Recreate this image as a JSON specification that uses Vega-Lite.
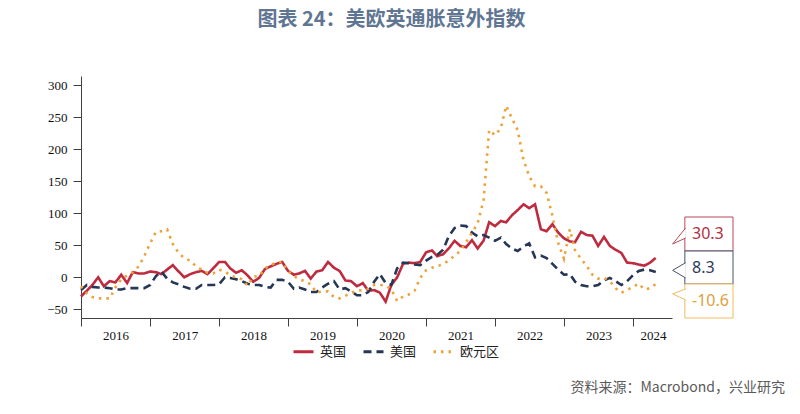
{
  "$schema": "https://vega.github.io/schema/vega-lite/v6.json",
  "autosize": "none",
  "width": 591,
  "height": 242,
  "padding": {"left": 81, "top": 76, "right": 128, "bottom": 96},
  "background": "white",
  "title": {
    "text": "图表 24：美欧英通胀意外指数",
    "font": "Noto Sans CJK SC",
    "fontSize": 20,
    "fontWeight": "bold",
    "color": "#5f7693",
    "anchor": "middle",
    "dx": 15,
    "offset": 46
  },
  "config": {
    "view": {"stroke": null},
    "axis": {"grid": false, "domainColor": "#404040", "tickColor": "#404040", "labelColor": "#111111", "labelFont": "Liberation Serif", "labelFontSize": 13, "tickSize": 8, "title": null, "labelOverlap": false}
  },
  "datasets": {
    "series": [
      {"d": "2016-01-01", "英国": -30, "美国": -20, "欧元区": -14},
      {"d": "2016-02-01", "英国": -21, "美国": -12, "欧元区": -25},
      {"d": "2016-03-01", "英国": -12, "美国": -15, "欧元区": -31},
      {"d": "2016-04-01", "英国": 0, "美国": -16, "欧元区": -33},
      {"d": "2016-05-01", "英国": -14, "美国": -16, "欧元区": -33},
      {"d": "2016-06-01", "英国": -6, "美国": -17, "欧元区": -33},
      {"d": "2016-07-01", "英国": -8, "美国": -19, "欧元区": -16},
      {"d": "2016-08-01", "英国": 4, "美国": -19, "欧元区": -3},
      {"d": "2016-09-01", "英国": -9, "美国": -17, "欧元区": 3},
      {"d": "2016-10-01", "英国": 8, "美国": -17, "欧元区": 8},
      {"d": "2016-11-01", "英国": 6, "美国": -17, "欧元区": 17},
      {"d": "2016-12-01", "英国": 6, "美国": -17, "欧元区": 33},
      {"d": "2017-01-01", "英国": 9, "美国": -12, "欧元区": 53},
      {"d": "2017-02-01", "英国": 8, "美国": 2, "欧元区": 71},
      {"d": "2017-03-01", "英国": 5, "美国": 9, "欧元区": 72},
      {"d": "2017-04-01", "英国": 12, "美国": -2, "欧元区": 75},
      {"d": "2017-05-01", "英国": 19, "美国": -8, "欧元区": 52},
      {"d": "2017-06-01", "英国": 9, "美国": -11, "欧元区": 38},
      {"d": "2017-07-01", "英国": 0, "美国": -15, "欧元区": 30},
      {"d": "2017-08-01", "英国": 5, "美国": -18, "欧元区": 26},
      {"d": "2017-09-01", "英国": 8, "美国": -18, "欧元区": 17},
      {"d": "2017-10-01", "英国": 10, "美国": -12, "欧元区": 12},
      {"d": "2017-11-01", "英国": 5, "美国": -12, "欧元区": 7},
      {"d": "2017-12-01", "英国": 14, "美国": -12, "欧元区": 6},
      {"d": "2018-01-01", "英国": 24, "美国": -11, "欧元区": 12},
      {"d": "2018-02-01", "英国": 24, "美国": 0, "欧元区": 9},
      {"d": "2018-03-01", "英国": 14, "美国": -1, "欧元区": 3},
      {"d": "2018-04-01", "英国": 7, "美国": -3, "欧元区": 0},
      {"d": "2018-05-01", "英国": 11, "美国": -6, "欧元区": -3},
      {"d": "2018-06-01", "英国": 3, "美国": -10, "欧元区": -13},
      {"d": "2018-07-01", "英国": -7, "美国": -12, "欧元区": 1},
      {"d": "2018-08-01", "英国": -1, "美国": -12, "欧元区": 2},
      {"d": "2018-09-01", "英国": 13, "美国": -15, "欧元区": 14},
      {"d": "2018-10-01", "英国": 17, "美国": -16, "欧元区": 19},
      {"d": "2018-11-01", "英国": 21, "美国": -4, "欧元区": 23},
      {"d": "2018-12-01", "英国": 24, "美国": -4, "欧元区": 24},
      {"d": "2019-01-01", "英国": 10, "美国": -7, "欧元区": 10},
      {"d": "2019-02-01", "英国": 4, "美国": -18, "欧元区": 2},
      {"d": "2019-03-01", "英国": 6, "美国": -16, "欧元区": -3},
      {"d": "2019-04-01", "英国": 10, "美国": -19, "欧元区": -6},
      {"d": "2019-05-01", "英国": -2, "美国": -23, "欧元区": -11},
      {"d": "2019-06-01", "英国": 9, "美国": -23, "欧元区": -24},
      {"d": "2019-07-01", "英国": 11, "美国": -16, "欧元区": -22},
      {"d": "2019-08-01", "英国": 24, "美国": -10, "欧元区": -22},
      {"d": "2019-09-01", "英国": 15, "美国": -6, "欧元区": -31},
      {"d": "2019-10-01", "英国": 10, "美国": -19, "欧元区": -33},
      {"d": "2019-11-01", "英国": -5, "美国": -17, "欧元区": -29},
      {"d": "2019-12-01", "英国": -6, "美国": -22, "欧元区": -24},
      {"d": "2020-01-01", "英国": -14, "美国": -28, "欧元区": -21},
      {"d": "2020-02-01", "英国": -9, "美国": -28, "欧元区": -20},
      {"d": "2020-03-01", "英国": -21, "美国": -23, "欧元区": -18},
      {"d": "2020-04-01", "英国": -20, "美国": -7, "欧元区": -12},
      {"d": "2020-05-01", "英国": -24, "美国": 5, "欧元区": -12},
      {"d": "2020-06-01", "英国": -38, "美国": -9, "欧元区": -13},
      {"d": "2020-07-01", "英国": -12, "美国": -12, "欧元区": -19},
      {"d": "2020-08-01", "英国": 0, "美国": 14, "欧元区": -37},
      {"d": "2020-09-01", "英国": 21, "美国": 23, "欧元区": -30},
      {"d": "2020-10-01", "英国": 23, "美国": 22, "欧元区": -27},
      {"d": "2020-11-01", "英国": 22, "美国": 20, "欧元区": -21},
      {"d": "2020-12-01", "英国": 24, "美国": 19, "欧元区": -1},
      {"d": "2021-01-01", "英国": 39, "美国": 26, "欧元区": 11},
      {"d": "2021-02-01", "英国": 42, "美国": 32, "欧元区": 15},
      {"d": "2021-03-01", "英国": 33, "美国": 35, "欧元区": 17},
      {"d": "2021-04-01", "英国": 36, "美国": 43, "欧元区": 21},
      {"d": "2021-05-01", "英国": 45, "美国": 64, "欧元区": 26},
      {"d": "2021-06-01", "英国": 57, "美国": 77, "欧元区": 34},
      {"d": "2021-07-01", "英国": 49, "美国": 81, "欧元区": 41},
      {"d": "2021-08-01", "英国": 47, "美国": 80, "欧元区": 55},
      {"d": "2021-09-01", "英国": 58, "美国": 70, "欧元区": 70},
      {"d": "2021-10-01", "英国": 45, "美国": 64, "欧元区": 84},
      {"d": "2021-11-01", "英国": 57, "美国": 66, "欧元区": 120},
      {"d": "2021-12-01", "英国": 86, "美国": 62, "欧元区": 230},
      {"d": "2022-01-01", "英国": 80, "美国": 57, "欧元区": 222},
      {"d": "2022-02-01", "英国": 88, "美国": 62, "欧元区": 233},
      {"d": "2022-03-01", "英国": 86, "美国": 52, "欧元区": 268},
      {"d": "2022-04-01", "英国": 97, "美国": 45, "欧元区": 248},
      {"d": "2022-05-01", "英国": 105, "美国": 41, "欧元区": 230},
      {"d": "2022-06-01", "英国": 114, "美国": 48, "欧元区": 183},
      {"d": "2022-07-01", "英国": 108, "美国": 53, "欧元区": 158},
      {"d": "2022-08-01", "英国": 114, "美国": 31, "欧元区": 142},
      {"d": "2022-09-01", "英国": 75, "美国": 34, "欧元区": 142},
      {"d": "2022-10-01", "英国": 72, "美国": 30, "欧元区": 132},
      {"d": "2022-11-01", "英国": 83, "美国": 21, "欧元区": 96},
      {"d": "2022-12-01", "英国": 70, "美国": 12, "欧元区": 54},
      {"d": "2023-01-01", "英国": 61, "美国": 4, "欧元区": 29},
      {"d": "2023-02-01", "英国": 56, "美国": 5, "欧元区": 75},
      {"d": "2023-03-01", "英国": 55, "美国": -7, "欧元区": 42},
      {"d": "2023-04-01", "英国": 71, "美国": -12, "欧元区": 29},
      {"d": "2023-05-01", "英国": 66, "美国": -14, "欧元区": 18},
      {"d": "2023-06-01", "英国": 65, "美国": -14, "欧元区": 4},
      {"d": "2023-07-01", "英国": 49, "美国": -12, "欧元区": -2},
      {"d": "2023-08-01", "英国": 63, "美国": -5, "欧元区": -1},
      {"d": "2023-09-01", "英国": 49, "美国": -1, "欧元区": -6},
      {"d": "2023-10-01", "英国": 43, "美国": -6, "欧元区": -17},
      {"d": "2023-11-01", "英国": 38, "美国": -12, "欧元区": -24},
      {"d": "2023-12-01", "英国": 23, "美国": -6, "欧元区": -20},
      {"d": "2024-01-01", "英国": 22, "美国": 3, "欧元区": -15},
      {"d": "2024-02-01", "英国": 20, "美国": 10, "欧元区": -10},
      {"d": "2024-03-01", "英国": 18, "美国": 12, "欧元区": -19},
      {"d": "2024-04-01", "英国": 23, "美国": 11, "欧元区": -17},
      {"d": "2024-05-01", "英国": 30.3, "美国": 8.3, "欧元区": -10.6}
    ],
    "callouts": [
      {"key": "uk", "label": "30.3", "top": 94.2, "bottom": 41.1, "tip": 64.5},
      {"key": "us", "label": "8.3", "top": 41.1, "bottom": -10.5, "tip": 10.9},
      {"key": "ez", "label": "-10.6", "top": -10.5, "bottom": -63.6, "tip": -26}
    ],
    "source": [
      {"text": "资料来源：Macrobond，兴业研究"}
    ]
  },
  "layer": [
    {
      "data": {"name": "series"},
      "transform": [{"fold": ["英国", "美国", "欧元区"], "as": ["series", "value"]}],
      "mark": {"type": "line", "strokeWidth": 2.6, "strokeCap": "butt"},
      "encoding": {
        "x": {
          "field": "d",
          "type": "temporal",
          "scale": {"type": "utc", "domain": [{"year": 2016, "month": 1, "date": 1, "utc": true}, {"year": 2024, "month": 7, "date": 26, "utc": true}]},
          "axis": {
            "values": [
              {"year": 2016, "month": 1, "date": 1, "utc": true},
              {"year": 2017, "month": 1, "date": 1, "utc": true},
              {"year": 2018, "month": 1, "date": 1, "utc": true},
              {"year": 2019, "month": 1, "date": 1, "utc": true},
              {"year": 2020, "month": 1, "date": 1, "utc": true},
              {"year": 2021, "month": 1, "date": 1, "utc": true},
              {"year": 2022, "month": 1, "date": 1, "utc": true},
              {"year": 2023, "month": 1, "date": 1, "utc": true},
              {"year": 2024, "month": 1, "date": 1, "utc": true}
            ],
            "format": "%Y",
            "labelFlush": false,
            "labelOverlap": false,
            "labelAlign": "center",
            "labelPadding": 3,
            "labelOffset": {"condition": {"test": "utcyear(datum.value) == 2024", "value": 20}, "value": 34.5}
          }
        },
        "y": {
          "field": "value",
          "type": "quantitative",
          "scale": {"domain": [-63.6, 314.5], "nice": false, "zero": false},
          "axis": {"values": [-50, 0, 50, 100, 150, 200, 250, 300], "labelPadding": 6, "labelOverlap": false}
        },
        "color": {
          "field": "series",
          "type": "nominal",
          "sort": ["英国", "美国", "欧元区"],
          "scale": {"domain": ["英国", "美国", "欧元区"], "range": ["#be2a3e", "#263655", "#eda23a"]},
          "legend": {
            "title": null,
            "orient": "none",
            "legendX": 211,
            "legendY": 264,
            "direction": "horizontal",
            "symbolType": "stroke",
            "symbolSize": 400,
            "symbolStrokeWidth": 3,
            "labelFont": "Noto Sans CJK SC",
            "labelFontSize": 13,
            "labelColor": "#222222",
            "labelOffset": 5,
            "columnPadding": 10
          }
        },
        "strokeDash": {
          "field": "series",
          "type": "nominal",
          "sort": ["英国", "美国", "欧元区"],
          "scale": {"domain": ["英国", "美国", "欧元区"], "range": [[1, 0], [8, 5], [2.5, 5]]},
          "legend": {
            "title": null,
            "orient": "none",
            "legendX": 211,
            "legendY": 264,
            "direction": "horizontal",
            "symbolType": "stroke",
            "symbolSize": 400,
            "symbolStrokeWidth": 3,
            "labelFont": "Noto Sans CJK SC",
            "labelFontSize": 13,
            "labelColor": "#222222",
            "labelOffset": 5,
            "columnPadding": 10
          }
        }
      }
    },
    {
      "data": {"name": "callouts"},
      "mark": {"type": "rect", "fill": "white", "strokeWidth": 1},
      "encoding": {
        "x": {"datum": {"year": 2024, "month": 10, "date": 2, "utc": true}, "type": "temporal"},
        "x2": {"datum": {"year": 2025, "month": 6, "date": 14, "utc": true}},
        "y": {"field": "top", "type": "quantitative", "axis": {"values": [-50, 0, 50, 100, 150, 200, 250, 300], "labelPadding": 6, "labelOverlap": false}},
        "y2": {"field": "bottom"},
        "stroke": {"field": "key", "type": "nominal", "scale": {"domain": ["uk", "us", "ez"], "range": ["#b9485a", "#46536e", "#eebb5e"]}, "legend": null}
      }
    },
    {
      "data": {"name": "callouts"},
      "mark": {"type": "point", "filled": true, "fill": "white", "strokeWidth": 1, "opacity": 1, "size": 256},
      "encoding": {
        "x": {"datum": {"year": 2024, "month": 8, "date": 31, "utc": true}, "type": "temporal"},
        "y": {"field": "tip", "type": "quantitative", "axis": {"values": [-50, 0, 50, 100, 150, 200, 250, 300], "labelPadding": 6, "labelOverlap": false}},
        "shape": {"field": "key", "type": "nominal", "scale": {"domain": ["uk", "us", "ez"], "range": ["M0.85,-1L-0.77,1L0.85,0.25", "M0.85,-0.95L-0.77,0L0.85,0.95", "M0.85,-0.62L-0.77,0L0.85,0.75"]}, "legend": null},
        "stroke": {"field": "key", "type": "nominal", "legend": null}
      }
    },
    {
      "data": {"name": "callouts"},
      "mark": {"type": "text", "align": "left", "baseline": "middle", "dy": 17, "font": "Noto Sans", "fontSize": 16},
      "encoding": {
        "x": {"datum": {"year": 2024, "month": 11, "date": 9, "utc": true}, "type": "temporal"},
        "y": {"field": "top", "type": "quantitative", "axis": {"values": [-50, 0, 50, 100, 150, 200, 250, 300], "labelPadding": 6, "labelOverlap": false}},
        "text": {"field": "label"},
        "fill": {"field": "key", "type": "nominal", "scale": {"domain": ["uk", "us", "ez"], "range": ["#b03040", "#2d3b58", "#e2a03c"]}, "legend": null}
      }
    },
    {
      "data": {"name": "source"},
      "mark": {"type": "text", "align": "right", "baseline": "middle", "font": "Noto Sans CJK SC", "fontSize": 14, "color": "#5a5a5a"},
      "encoding": {
        "x": {"datum": {"year": 2026, "month": 3, "date": 16, "utc": true}, "type": "temporal"},
        "y": {"datum": -173, "type": "quantitative", "axis": {"values": [-50, 0, 50, 100, 150, 200, 250, 300], "labelPadding": 6, "labelOverlap": false}},
        "text": {"field": "text"}
      }
    }
  ]
}
